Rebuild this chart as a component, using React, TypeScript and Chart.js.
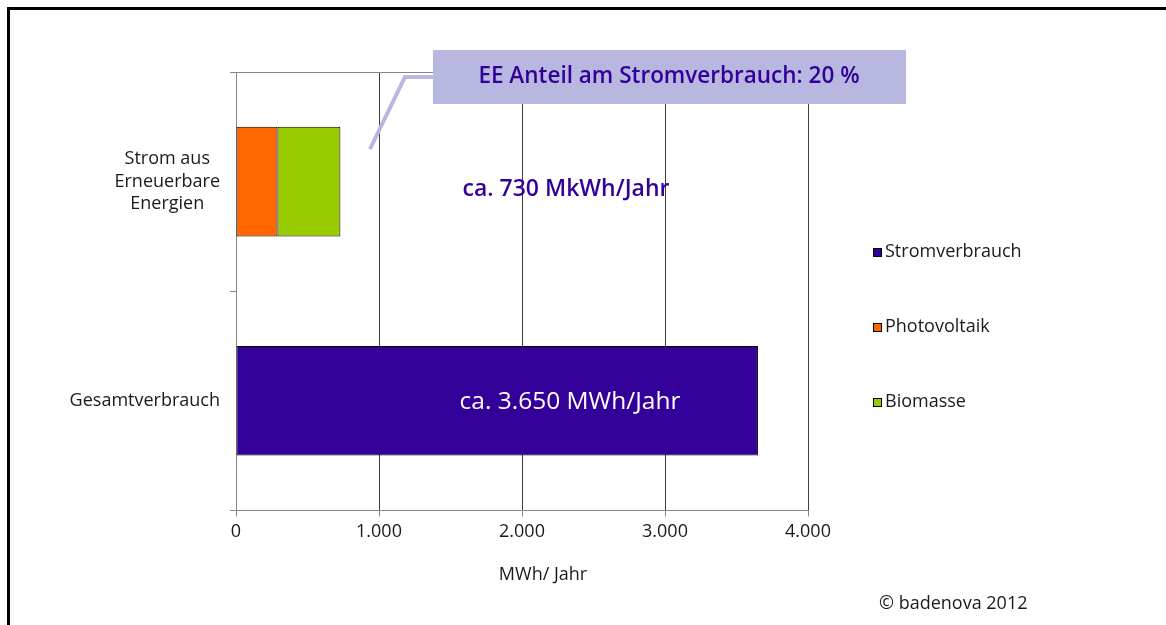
import React, { useEffect, useRef } from 'react';
import { Chart, registerables } from 'chart.js';

Chart.register(...registerables);

const FONT = '"Open Sans", "Noto Sans", sans-serif';

const categories: string[][] = [['Strom aus', 'Erneuerbare', 'Energien'], ['Gesamtverbrauch']];
const seriesNames = ['Stromverbrauch', 'Photovoltaik', 'Biomasse'];
const seriesColors = ['#330099', '#FF6600', '#99CC00'];
const stromverbrauch = [null, 3650];
const photovoltaik = [290, null];
const biomasse = [440, null];
const xTicks = [0, 1000, 2000, 3000, 4000];
const xTickLabels = ['0', '1.000', '2.000', '3.000', '4.000'];
const xTitle = 'MWh/ Jahr';
const eeShareText = 'EE Anteil am Stromverbrauch: 20 %';
const eeLabel = 'ca. 730 MkWh/Jahr';
const totalLabel = 'ca. 3.650 MWh/Jahr';
const copyright = '\u00A9 badenova 2012';

const decorPlugin = {
  id: 'decor',
  afterDraw(chart: any) {
    const ctx = chart.ctx as CanvasRenderingContext2D;
    const ca = chart.chartArea;
    const y = chart.scales.y;
    ctx.save();
    // category labels (block right-aligned, lines centred)
    ctx.font = `18px ${FONT}`;
    ctx.fillStyle = '#1a1a1a';
    ctx.textBaseline = 'middle';
    ctx.textAlign = 'center';
    categories.forEach((lines, i) => {
      const w = Math.max(...lines.map((l) => ctx.measureText(l).width));
      const cx = ca.left - 16 - w / 2;
      const cy = y.getPixelForValue(i);
      const lh = 22.5;
      lines.forEach((l, j) => ctx.fillText(l, cx, cy + (j - (lines.length - 1) / 2) * lh));
    });

    // axis title
    ctx.fillText(xTitle, 543, 575);

    // legend
    ctx.textAlign = 'left';
    const legendY = [252, 327, 402];
    seriesNames.forEach((name, i) => {
      ctx.fillStyle = seriesColors[i];
      ctx.fillRect(873, legendY[i] - 4, 8, 8);
      ctx.strokeStyle = '#000';
      ctx.lineWidth = 1;
      ctx.strokeRect(873.5, legendY[i] - 3.5, 8, 8);
      ctx.fillStyle = '#1a1a1a';
      ctx.fillText(name, 885, legendY[i]);
    });

    // copyright
    ctx.fillText(copyright, 879, 604);

    // callout
    ctx.strokeStyle = '#B7B7DF';
    ctx.lineWidth = 4;
    ctx.beginPath();
    ctx.moveTo(370, 149);
    ctx.lineTo(405, 77);
    ctx.lineTo(436, 77);
    ctx.stroke();
    ctx.fillStyle = '#B7B7DF';
    ctx.fillRect(433, 50, 473, 54);
    ctx.fillStyle = '#330099';
    ctx.font = `600 22.5px ${FONT}`;
    ctx.textAlign = 'center';
    ctx.fillText(eeShareText, 669, 77);

    ctx.font = `600 23px ${FONT}`;
    ctx.fillText(eeLabel, 566, 189);

    ctx.fillStyle = '#ffffff';
    ctx.font = `24.5px ${FONT}`;
    ctx.fillText(totalLabel, 570, 402);
    ctx.restore();
  },
};

export default function App() {
  const ref = useRef<HTMLCanvasElement>(null);
  useEffect(() => {
    if (!ref.current) return;
    const data = [stromverbrauch, photovoltaik, biomasse];
    const chart = new Chart(ref.current, {
      type: 'bar',
      data: {
        labels: categories.map((c) => c.join(' ')),
        datasets: seriesNames.map((name, i) => ({
          label: name,
          data: data[i] as any,
          backgroundColor: seriesColors[i],
          borderColor: '#000000',
          borderWidth: 1,
          borderSkipped: false,
          barPercentage: 0.5,
          categoryPercentage: 1,
        })),
      },
      options: {
        indexAxis: 'y',
        responsive: false,
        animation: false,
        devicePixelRatio: 1,
        layout: { padding: { left: 230, right: 358, top: 72, bottom: 77 } },
        plugins: { legend: { display: false }, tooltip: { enabled: false } },
        scales: {
          x: {
            type: 'linear',
            stacked: true,
            min: 0,
            max: 4000,
            afterBuildTicks: (axis: any) => {
              axis.ticks = xTicks.map((v) => ({ value: v }));
            },
            ticks: {
              callback: (v: any) => xTickLabels[xTicks.indexOf(Number(v))],
              font: { family: FONT, size: 18 },
              color: '#1a1a1a',
              padding: 5,
              maxRotation: 0,
            },
            grid: {
              color: (c: any) => (c.index === 0 ? 'rgba(0,0,0,0)' : '#3c3c3c'),
              tickColor: '#868686',
              tickLength: 6,
            },
            border: { color: '#868686' },
          },
          y: {
            type: 'category',
            stacked: true,
            offset: true,
            ticks: { display: false },
            grid: {
              offset: true,
              color: (c: any) => (c.index === 0 ? '#868686' : 'rgba(0,0,0,0)'),
              tickColor: '#868686',
              tickLength: 6,
            },
            border: { color: '#868686' },
          },
        },
      },
      plugins: [decorPlugin],
    });
    return () => chart.destroy();
  }, []);
  return (
    <>
      <canvas
        ref={ref}
        width={1166}
        height={625}
        style={{ position: 'fixed', left: 0, top: 0, width: 1166, height: 625 }}
      />
      <div
        style={{
          position: 'fixed',
          left: 7,
          top: 7,
          width: 1165,
          height: 625,
          borderLeft: '3px solid #000',
          borderTop: '3px solid #000',
          pointerEvents: 'none',
        }}
      />
    </>
  );
}
